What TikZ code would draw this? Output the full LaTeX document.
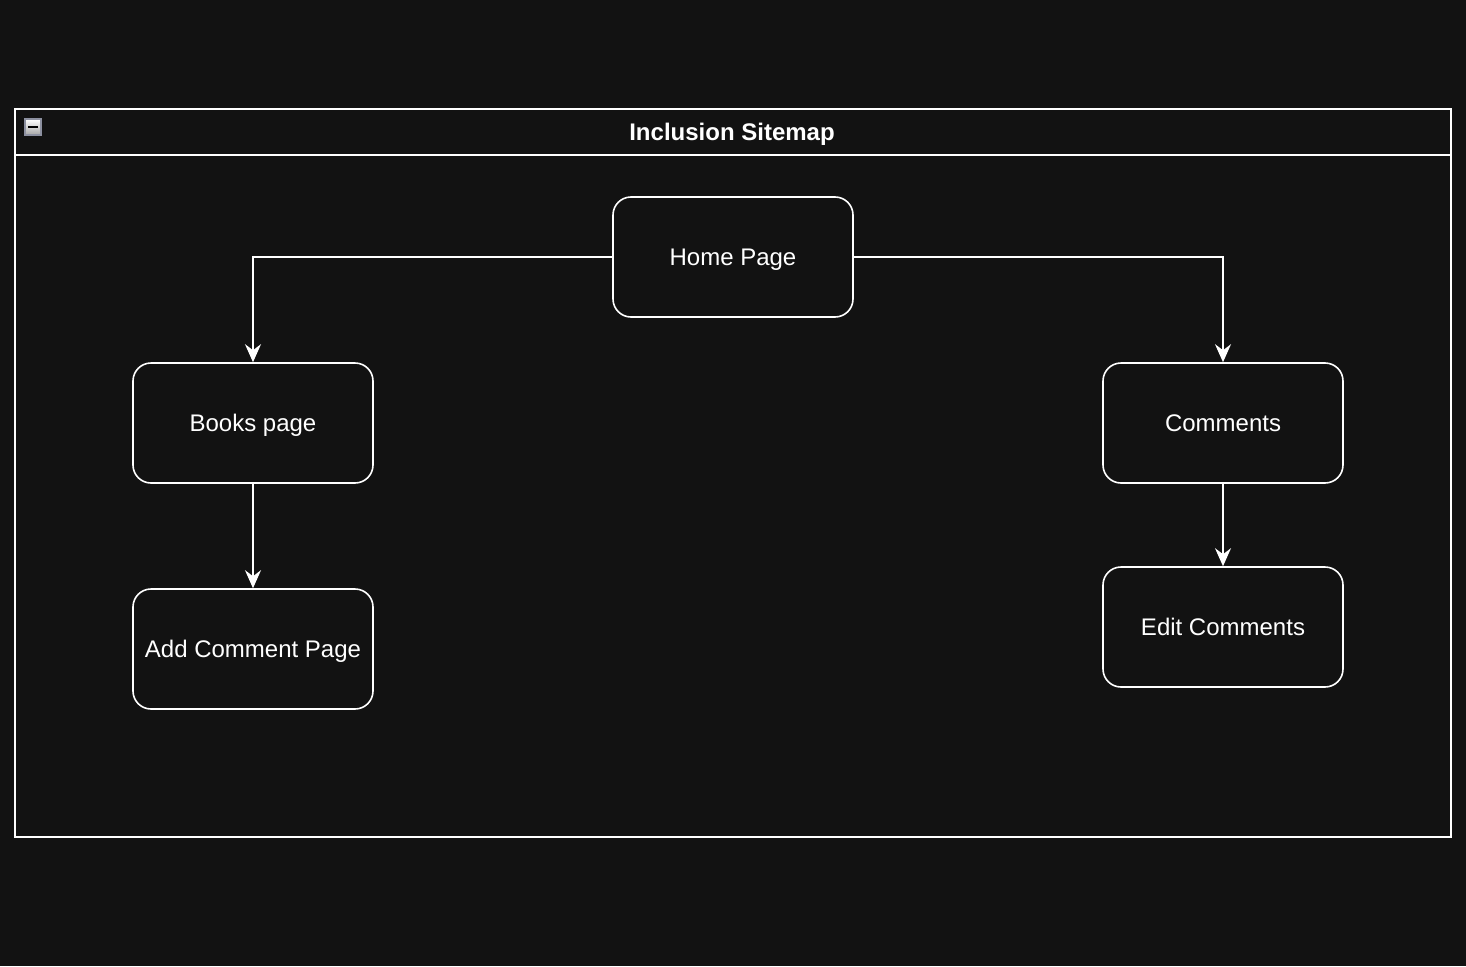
\documentclass[tikz,border=0pt]{standalone}
\usepackage{fontspec}
\setmainfont{Liberation Sans}
\usepackage{tikz}
\usetikzlibrary{arrows.meta}
\definecolor{bgdark}{RGB}{18, 18, 18}
\definecolor{iconedge}{RGB}{140, 144, 160}

\tikzset{
    page/.style={draw=white, line width=1.6pt, rounded corners=18pt, fill=bgdark,
        minimum width=240pt, minimum height=120pt, text=white,
        text height=19pt, text depth=3pt,
        font=\fontsize{24}{28}\selectfont},
    link/.style={draw=white, line width=1.6pt,
        -{Stealth[length=18pt, width=16pt, inset=6pt]}}
}

\begin{document}
\begin{tikzpicture}[x=1pt, y=-1pt]
    % Background
    \fill[bgdark] (0,0) rectangle (1466,966);
    \useasboundingbox (0,0) rectangle (1466,966);

    % Container with header
    \draw[white, line width=1.6pt] (15,109) rectangle (1451,837);
    \draw[white, line width=1.6pt] (15,155) -- (1451,155);
    \node[text=white, text height=19pt, text depth=3pt,
        font=\bfseries\fontsize{24}{28}\selectfont] (title) at (732,132) {Inclusion Sitemap};

    % Collapse icon
    \shade[top color=white, bottom color=gray!70, draw=iconedge, line width=1.2pt] (25,119) rectangle (41,135);
    \draw[black, line width=2.2pt] (28,127) -- (38,127);

    % Pages
    \node[page] (home) at (733,257) {Home Page};
    \node[page] (books) at (253,423) {Books page};
    \node[page] (addcomment) at (253,649) {Add Comment Page};
    \node[page] (comments) at (1223,423) {Comments};
    \node[page] (editcomments) at (1223,627) {Edit Comments};

    % Links
    \draw[link] (home.west) -| (books.north);
    \draw[link] (home.east) -| (comments.north);
    \draw[link] (books.south) -- (addcomment.north);
    \draw[link] (comments.south) -- (editcomments.north);
\end{tikzpicture}
\end{document}
